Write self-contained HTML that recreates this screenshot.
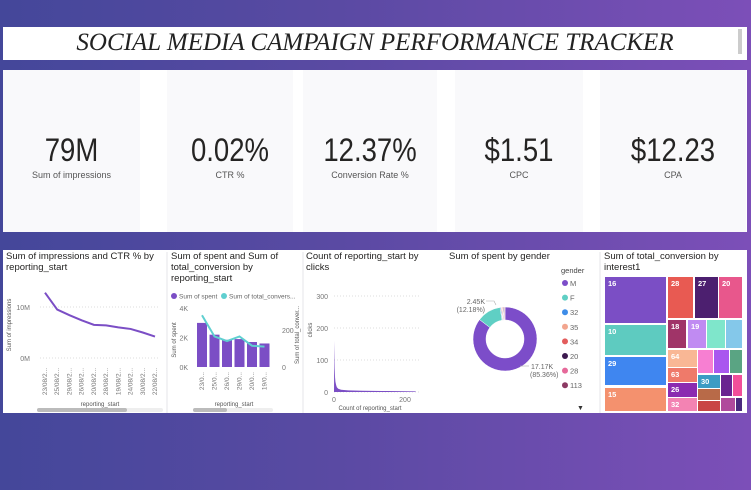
<!DOCTYPE html>
<html><head><meta charset="utf-8">
<style>
body{margin:0;width:751px;height:490px;overflow:hidden;font-family:"Liberation Sans",sans-serif;background:linear-gradient(90deg,#44479a 0%,#5a4aa3 45%,#7c4fb8 100%);position:relative}
.abs{position:absolute}
.kpi{position:absolute;top:70px;height:162px;background:#f9f9fb;text-align:center}
.kv{position:absolute;top:62px;width:100%;font-size:32px;color:#252423;font-family:"Liberation Sans",sans-serif;transform:scaleX(0.86)}
.kl{position:absolute;top:100px;width:100%;font-size:9px;color:#555}
.ct{position:absolute;font-size:9.5px;color:#252423;line-height:11px}
</style></head><body>
<div class="abs" style="left:3px;top:27px;width:744px;height:33px;background:#fff"></div>
<div class="abs" style="left:3px;top:29px;width:744px;text-align:center;font-family:'Liberation Serif',serif;font-style:italic;font-size:25px;color:#222">SOCIAL MEDIA CAMPAIGN PERFORMANCE TRACKER</div>
<div class="abs" style="left:738px;top:29px;width:4px;height:25px;background:#ccc"></div>
<div class="abs" style="left:3px;top:70px;width:744px;height:162px;background:#fff"></div>
<div class="kpi" style="left:3px;width:137px"><div class="kv">79M</div><div class="kl">Sum of impressions</div></div>
<div class="kpi" style="left:167px;width:126px"><div class="kv">0.02%</div><div class="kl">CTR %</div></div>
<div class="kpi" style="left:303px;width:134px"><div class="kv">12.37%</div><div class="kl">Conversion Rate %</div></div>
<div class="kpi" style="left:455px;width:128px"><div class="kv">$1.51</div><div class="kl">CPC</div></div>
<div class="kpi" style="left:600px;width:146px"><div class="kv">$12.23</div><div class="kl">CPA</div></div>

<div class="abs" style="left:3px;top:250px;width:744px;height:163px;background:#fff"></div>
<svg class="abs" style="left:0;top:0" width="751" height="490" id="svg" font-family="Liberation Sans, sans-serif">
<g stroke="#e6e6ea"><line x1="167" y1="252" x2="167" y2="413"/><line x1="303" y1="252" x2="303" y2="413"/><line x1="600" y1="252" x2="600" y2="413"/></g>
</svg>
<div class="ct" style="left:6px;top:251px">Sum of impressions and CTR % by<br>reporting_start</div>
<div class="ct" style="left:171px;top:251px">Sum of spent and Sum of<br>total_conversion by<br>reporting_start</div>
<div class="ct" style="left:306px;top:251px">Count of reporting_start by<br>clicks</div>
<div class="ct" style="left:449px;top:251px">Sum of spent by gender</div>
<div class="ct" style="left:604px;top:251px">Sum of total_conversion by<br>interest1</div>
<script>
const svg=document.getElementById('svg');
const NS='http://www.w3.org/2000/svg';
function mk(t,a,txt){const e=document.createElementNS(NS,t);for(const k in a)e.setAttribute(k,a[k]);if(txt!==undefined)e.textContent=txt;svg.appendChild(e);return e;}

// chart 1 data
const c1Cats=['23/08/2...','25/08/2...','29/08/2...','26/08/2...','20/08/2...','28/08/2...','19/08/2...','24/08/2...','30/08/2...','22/08/2...'];
const c1Impr=[12.8,9.5,8.4,7.4,6.5,6.4,6.0,5.7,5.0,4.2];
const c1Ticks=[0,10];
// chart 2 data
const c2Cats=['23/0...','25/0...','26/0...','29/0...','20/0...','19/0...'];
const c2Spent=[3.0,2.2,1.85,1.9,1.7,1.6];
const c2Conv=[280,165,140,165,115,110];
const c2LeftTicks=[0,2,4];
const c2RightTicks=[0,200];
// chart 3 data
const c3Count=[1,2,3,4,6,8,12,20,40,80,150,230];
const c3Clicks=[160,75,45,32,22,15,10,7,5,4,3,2];
const c3YTicks=[0,100,200,300];
const c3XTicks=[0,200];
// chart 4 data
const c4Genders=['M','F','32','35','34','20','28','113'];
const c4Spent=[17.17,2.45,0.1,0.09,0.08,0.08,0.08,0.065];
const c4Colors=['#7c4dc9','#5fcfc4','#3e8de8','#f2a58e','#e35c5c','#3d1a4f','#e6699a','#8c3a63'];

// chart1
const x1=i=>45+i*(110/9), y1=v=>358-v*5.1;
c1Ticks.forEach(t=>{const l=mk('line',{x1:40,x2:160,y1:y1(t),y2:y1(t),stroke:'#ddd','stroke-dasharray':'1,2'});
const tx=mk('text',{x:30,y:y1(t)+3,'font-size':7,fill:'#777','text-anchor':'end'},t+'M');});
const p1=mk('polyline',{points:c1Impr.map((v,i)=>x1(i)+','+y1(v)).join(' '),fill:'none',stroke:'#7b4ec5','stroke-width':2});

c1Cats.forEach((c,i)=>{const t=mk('text',{x:0,y:0,'font-size':6.5,fill:'#777','text-anchor':'end',transform:`translate(${x1(i)+2},368) rotate(-90)`},c);});
let t=mk('text',{x:0,y:0,'font-size':6,fill:'#555','text-anchor':'middle',transform:'translate(11,325) rotate(-90)'},'Sum of impressions');
t=mk('text',{x:100,y:406,'font-size':6,fill:'#555','text-anchor':'middle'},'reporting_start');
let r=mk('rect',{x:37,y:408,width:126,height:4,rx:2,fill:'#eee'});
r=mk('rect',{x:37,y:408,width:90,height:4,rx:2,fill:'#bbb'});

// chart2
const bw=10,x2=i=>197+i*12.5,y2=v=>367-v*14.7,y2r=v=>367-v*0.185;
c2LeftTicks.forEach(v=>{const tx=mk('text',{x:188,y:y2(v)+3,'font-size':7,fill:'#777','text-anchor':'end'},v+'K');});
c2RightTicks.forEach(v=>{const tx=mk('text',{x:282,y:y2r(v)+3,'font-size':7,fill:'#777'},v);});
c2Spent.forEach((v,i)=>{const b=mk('rect',{x:x2(i),y:y2(v),width:bw,height:v*14.7,fill:'#7b4ec5'});});
const p2=mk('polyline',{points:c2Conv.map((v,i)=>(x2(i)+bw/2)+','+y2r(v)).join(' '),fill:'none',stroke:'#5fcfd0','stroke-width':2});

c2Cats.forEach((c,i)=>{const tx=mk('text',{x:0,y:0,'font-size':6.5,fill:'#777','text-anchor':'end',transform:`translate(${x2(i)+bw/2+2},372) rotate(-90)`},c);});
let c=mk('circle',{cx:174,cy:296,r:3,fill:'#7b4ec5'});
t=mk('text',{x:179,y:298.5,'font-size':6.5,fill:'#666'},'Sum of spent');
c=mk('circle',{cx:224,cy:296,r:3,fill:'#5fcfd0'});
t=mk('text',{x:229,y:298.5,'font-size':6.5,fill:'#666'},'Sum of total_convers...');
t=mk('text',{x:0,y:0,'font-size':6,fill:'#555','text-anchor':'middle',transform:'translate(176,340) rotate(-90)'},'Sum of spent');
t=mk('text',{x:0,y:0,'font-size':6,fill:'#555','text-anchor':'middle',transform:'translate(299,335) rotate(-90)'},'Sum of total_conver...');
t=mk('text',{x:234,y:406,'font-size':6,fill:'#555','text-anchor':'middle'},'reporting_start');
r=mk('rect',{x:193,y:408,width:80,height:4,rx:2,fill:'#eee'});
r=mk('rect',{x:193,y:408,width:34,height:4,rx:2,fill:'#bbb'});

// chart3
const x3=v=>334+v*0.355,y3=v=>392-v*0.32;
c3YTicks.forEach(v=>{const l=mk('line',{x1:334,x2:420,y1:y3(v),y2:y3(v),stroke:'#ddd','stroke-dasharray':'1,2'});
const tx=mk('text',{x:328,y:y3(v)+3,'font-size':7,fill:'#777','text-anchor':'end'},v);});
c3XTicks.forEach(v=>{const tx=mk('text',{x:x3(v),y:402,'font-size':7,fill:'#777','text-anchor':'middle'},v);});
const pts=[[x3(0),y3(0)]].concat(c3Count.map((v,i)=>[x3(v),y3(c3Clicks[i])])).concat([[x3(c3Count[c3Count.length-1]),y3(0)]]);
const a3=mk('polygon',{points:pts.map(p=>p.join(',')).join(' '),fill:'#7b4ec5'});
t=mk('text',{x:0,y:0,'font-size':6,fill:'#555','text-anchor':'middle',transform:'translate(312,330) rotate(-90)'},'clicks');
t=mk('text',{x:370,y:410,'font-size':6,fill:'#555','text-anchor':'middle'},'Count of reporting_start');

// chart4 donut
const cx=505,cy=339,R=32,ri=19,tot=c4Spent.reduce((a,b)=>a+b,0);let ang=0;
c4Spent.forEach((v,i)=>{const a0=ang,a1=ang+v/tot*2*Math.PI;ang=a1;const P=(a,rr)=>[cx+rr*Math.sin(a),cy-rr*Math.cos(a)];const lg=(a1-a0)>Math.PI?1:0;
const [p0x,p0y]=P(a0,R),[p1x,p1y]=P(a1,R),[q1x,q1y]=P(a1,ri),[q0x,q0y]=P(a0,ri);
const s=mk('path',{d:`M${p0x},${p0y}A${R},${R} 0 ${lg} 1 ${p1x},${p1y}L${q1x},${q1y}A${ri},${ri} 0 ${lg} 0 ${q0x},${q0y}Z`,fill:c4Colors[i],stroke:'#fff','stroke-width':0.5});
});
const pct=v=>(v/tot*100).toFixed(2)+'%';
t=mk('text',{x:485,y:304,'font-size':7,fill:'#666','text-anchor':'end'},c4Spent[1]+'K');
t=mk('text',{x:485,y:312,'font-size':7,fill:'#666','text-anchor':'end'},'('+pct(c4Spent[1])+')');
t=mk('text',{x:531,y:369,'font-size':7,fill:'#666'},c4Spent[0]+'K');
t=mk('text',{x:530,y:377,'font-size':7,fill:'#666'},'('+pct(c4Spent[0])+')');
let l=mk('polyline',{points:'486,301 494,301 496,305',fill:'none',stroke:'#aaa','stroke-width':0.6});
l=mk('polyline',{points:'520,366 529,366',fill:'none',stroke:'#aaa','stroke-width':0.6});
t=mk('text',{x:561,y:273,'font-size':7.5,fill:'#444'},'gender');
c4Genders.forEach((g,i)=>{const yy=283+i*14.6;const cc=mk('circle',{cx:565,cy:yy,r:3,fill:c4Colors[i]});
const tx=mk('text',{x:570,y:yy+3,'font-size':7.5,fill:'#666'},g);});
t=mk('text',{x:577,y:410,'font-size':7,fill:'#333'},'▼');

// chart5 treemap (layout rects)
const tm=[[605,277,61,46,'#7b4ec5','16'],[605,325,61,30,'#5ecbc0','10'],[605,357,61,28,'#3f86f0','29'],[605,388,61,23,'#f4916e','15'],
[668,277,25,41,'#e85a52','28'],[695,277,23,41,'#4c1f6f','27'],[719,277,23,41,'#e8578c','20'],
[668,320,18,28,'#a03468','18'],[688,320,18,28,'#c08bf2','19'],[707,320,18,28,'#7fe6cb',''],[726,320,16,28,'#84c8ea',''],
[668,350,29,17,'#f9b795','64'],[698,350,15,23,'#f77fd2',''],[714,350,15,23,'#a957ef',''],[730,350,12,23,'#5aa483',''],
[668,368,29,14,'#ef7a6a','63'],[668,383,29,14,'#8b2bb0','26'],[668,398,29,13,'#f383b3','32'],
[698,375,22,13,'#3c9cc4','30'],[698,389,22,11,'#b86a48',''],[698,401,22,10,'#c94545',''],
[721,375,11,21,'#6a2390',''],[733,375,9,21,'#f24f9a',''],[721,398,14,13,'#b04a9c',''],[736,398,6,13,'#4a2a7e','']];
tm.forEach(d=>{const rr=mk('rect',{x:d[0],y:d[1],width:d[2],height:d[3],fill:d[4]});
if(d[5]){const tx=mk('text',{x:d[0]+3,y:d[1]+9,'font-size':7.5,fill:'#fff','font-weight':'bold'},d[5]);}});
</script>
</body></html>
